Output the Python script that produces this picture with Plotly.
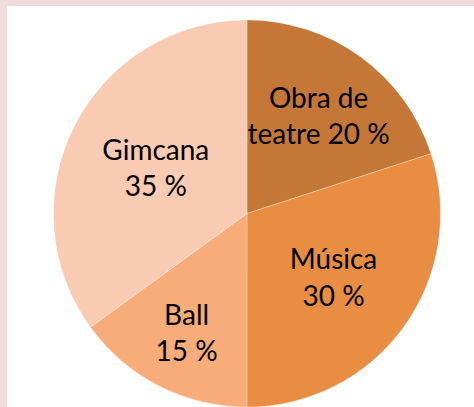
import plotly.graph_objects as go

categories = ["Obra de teatre", "Música", "Ball", "Gimcana"]
values = [20, 30, 15, 35]
label_lines = ["Obra de<br>teatre", "Música", "Ball", "Gimcana"]
value_sep = [" ", "<br>", "<br>", "<br>"]
colors = ["#C47737", "#E98D42", "#F7AC7A", "#F9CBB2"]

texts = [f"{l}{s}{v} %" for l, s, v in zip(label_lines, value_sep, values)]

W, H = 474, 407
cx, cy, r = 247, 213.5, 193.5

fig = go.Figure(go.Pie(
    labels=categories,
    values=values,
    text=texts,
    textinfo="text",
    textposition="inside",
    insidetextorientation="horizontal",
    sort=False,
    direction="clockwise",
    rotation=0,
    marker=dict(colors=colors, line=dict(color="rgba(255,255,255,0.45)", width=0.6)),
    textfont=dict(family="Lato, Carlito, Calibri, sans-serif", size=28, color="#000000"),
    hoverinfo="label+percent",
    domain=dict(x=[(cx - r) / W, (cx + r) / W], y=[max(0, 1 - (cy + r) / H), 1 - (cy - r) / H]),
))

fig.update_layout(
    width=W, height=H,
    margin=dict(l=0, r=0, t=0, b=0),
    paper_bgcolor="#F2DCDB",
    plot_bgcolor="#FFFFFF",
    showlegend=False,
    uniformtext=dict(minsize=28, mode="show"),
    shapes=[dict(type="rect", xref="paper", yref="paper", x0=7 / W, x1=1.01, y0=-0.01, y1=1 - 6 / H,
                 fillcolor="#FFFFFF", line=dict(width=0), layer="below")],
)

fig.write_html("out.html", config={"displayModeBar": False},
               post_script="document.body.style.margin='0px';")
